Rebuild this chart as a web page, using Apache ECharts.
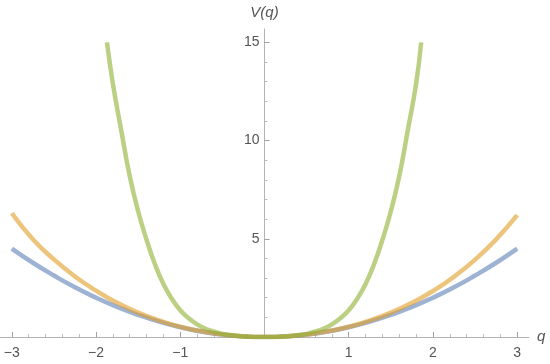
<!DOCTYPE html>
<html>
<head>
<meta charset="utf-8">
<script src="https://cdn.jsdelivr.net/npm/echarts@6/dist/echarts.min.js"></script>
<style>
  html, body { margin: 0; padding: 0; background: #fff; }
  #chart { width: 550px; height: 364px; }
</style>
</head>
<body>
<div id="chart"></div>
<script>
// values
const qWide = [-3, -2.75, -2.5, -2.25, -2, -1.75, -1.5, -1.25, -1, -0.75, -0.5, -0.25, 0,
  0.25, 0.5, 0.75, 1, 1.25, 1.5, 1.75, 2, 2.25, 2.5, 2.75, 3]
const blueV = [4.5, 3.78, 3.13, 2.53, 2.0, 1.53, 1.13, 0.78, 0.5, 0.28, 0.125, 0.03, 0,
  0.03, 0.125, 0.28, 0.5, 0.78, 1.13, 1.53, 2.0, 2.53, 3.13, 3.78, 4.5]
const orangeV = [6.3, 4.98, 3.95, 3.08, 2.36, 1.74, 1.24, 0.84, 0.52, 0.29, 0.127, 0.031, 0,
  0.031, 0.127, 0.29, 0.52, 0.84, 1.24, 1.74, 2.34, 3.07, 3.94, 4.97, 6.2]

const qNarrow = [-1.87, -1.8, -1.7, -1.6, -1.5, -1.4, -1.3, -1.2, -1.1, -1.0, -0.9, -0.8, -0.7, -0.6,
  -0.5, -0.4, -0.3, -0.2, -0.1, 0, 0.1, 0.2, 0.3, 0.4, 0.5, 0.6, 0.7, 0.8, 0.9, 1.0, 1.1, 1.2,
  1.3, 1.4, 1.5, 1.6, 1.7, 1.8, 1.86]
const greenV = [15, 12.9, 10.5, 8.2, 6.4, 4.95, 3.7, 2.7, 1.95, 1.36, 0.95, 0.64, 0.42, 0.28,
  0.16, 0.1, 0.05, 0.022, 0.005, 0, 0.005, 0.022, 0.05, 0.1, 0.16, 0.28, 0.42, 0.64, 0.95, 1.36, 1.95, 2.7,
  3.7, 4.95, 6.4, 8.2, 10.5, 12.9, 15]

const xLabels = [-3, -2, -1, 1, 2, 3]
const xMinor = [-2.8, -2.6, -2.4, -2.2, -1.8, -1.6, -1.4, -1.2, -0.8, -0.6, -0.4, -0.2,
  0.2, 0.4, 0.6, 0.8, 1.2, 1.4, 1.6, 1.8, 2.2, 2.4, 2.6, 2.8]
const yLabels = [5, 10, 15]
const yMinor = [1, 2, 3, 4, 6, 7, 8, 9, 11, 12, 13, 14]

const pairs = (xs, ys) => xs.map((x, i) => [x, ys[i]])

const labelStyle = {
  color: '#555',
  fontSize: 14,
  fontFamily: 'Liberation Sans, Arial, sans-serif',
}

// grid is 529px wide over [-3.14, 3.14], so q = 0 sits 264.5px from the left edge
const Y_SHIFT = -264.5

const chart = echarts.init(document.getElementById('chart'))
chart.setOption({
  animation: false,
  backgroundColor: '#fff',
  grid: { left: 0, right: 21, top: 29, bottom: 27, containLabel: false, outerBoundsMode: 'none' },
  xAxis: [
    {
      type: 'value',
      min: -3.14,
      max: 3.14,
      name: 'q',
      nameLocation: 'end',
      nameGap: 8,
      nameTextStyle: { ...labelStyle, fontStyle: 'italic', fontSize: 15 },
      axisLine: { lineStyle: { color: '#b3b3b3', width: 1 } },
      axisTick: { inside: true, length: 5, customValues: xLabels, lineStyle: { color: '#a0a0a0' } },
      axisLabel: {
        customValues: xLabels,
        margin: 9,
        ...labelStyle,
        formatter: v => (v < 0 ? '\u2212' + Math.abs(v) : String(v)),
      },
      splitLine: { show: false },
    },
    {
      type: 'value',
      position: 'bottom',
      min: -3.14,
      max: 3.14,
      axisLine: { show: false },
      axisTick: { inside: true, length: 3, customValues: xMinor, lineStyle: { color: '#bdbdbd' } },
      axisLabel: { show: false },
      splitLine: { show: false },
    },
  ],
  yAxis: [
    {
      type: 'value',
      position: 'left',
      offset: Y_SHIFT,
      min: 0,
      max: 15.68,
      name: 'V(q)',
      nameLocation: 'end',
      nameGap: 9,
      nameTextStyle: { ...labelStyle, fontStyle: 'italic', fontSize: 15 },
      axisLine: { show: true, onZero: false, lineStyle: { color: '#b3b3b3', width: 1 } },
      axisTick: { show: true, inside: true, length: 5, customValues: yLabels, lineStyle: { color: '#a0a0a0' } },
      axisLabel: { customValues: yLabels, margin: 5, ...labelStyle },
      splitLine: { show: false },
    },
    {
      type: 'value',
      position: 'left',
      offset: Y_SHIFT,
      min: 0,
      max: 15.68,
      axisLine: { show: false, onZero: false },
      axisTick: { show: true, inside: true, length: 3, customValues: yMinor, lineStyle: { color: '#bdbdbd' } },
      axisLabel: { show: false },
      splitLine: { show: false },
    },
  ],
  series: [
    {
      type: 'line',
      data: pairs(qWide, blueV),
      smooth: true,
      showSymbol: false,
      lineStyle: { color: '#5E81B5', width: 4.5, opacity: 0.6 },
    },
    {
      type: 'line',
      data: pairs(qWide, orangeV),
      smooth: true,
      showSymbol: false,
      lineStyle: { color: '#E19C24', width: 4.5, opacity: 0.6 },
    },
    {
      type: 'line',
      data: pairs(qNarrow, greenV),
      smooth: true,
      showSymbol: false,
      lineStyle: { color: '#8FB032', width: 4.5, opacity: 0.6 },
    },
  ],
})
</script>
</body>
</html>
